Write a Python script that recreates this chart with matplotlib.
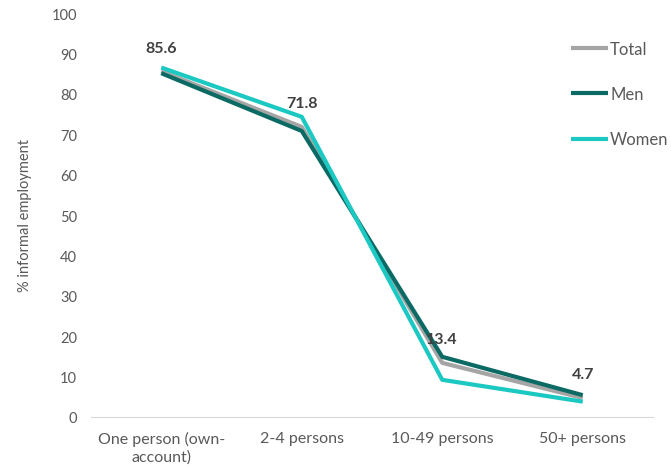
import matplotlib.pyplot as plt

plt.rcParams['font.family'] = ['Lato', 'DejaVu Sans']

categories = ['One person (own-\naccount)', '2-4 persons', '10-49 persons', '50+ persons']
total = [85.6, 71.8, 13.4, 4.7]
men = [85.1, 70.8, 14.9, 5.4]
women = [86.5, 74.3, 9.2, 3.8]

fig = plt.figure(figsize=(6.71, 4.77), dpi=100)
ax = fig.add_axes([91 / 671, 1 - 418 / 477, (653 - 91) / 671, (418 - 14) / 477])

x = list(range(len(categories)))
ax.plot(x, total, color='#A5A5A5', lw=3, label='Total', solid_capstyle='butt')
ax.plot(x, men, color='#0B6B64', lw=3, label='Men', solid_capstyle='butt')
ax.plot(x, women, color='#1CC8C2', lw=3, label='Women', solid_capstyle='butt')

for xi, v in zip(x, total):
    ax.annotate(f'{v:.1f}', (xi, v), xytext=(0, 12), textcoords='offset points',
                ha='center', va='bottom', fontsize=11.5, fontweight='bold', color='#404040')

ax.set_xlim(-0.5, len(categories) - 0.5)
ax.set_ylim(0, 100)
ax.set_yticks(range(0, 101, 10))
ax.set_xticks(x)
ax.set_xticklabels(categories, linespacing=1.3)
ax.tick_params(axis='both', length=0, colors='#595959')
ax.tick_params(axis='x', pad=10, labelsize=11.5)
ax.tick_params(axis='y', pad=10, labelsize=10.5)
for s in ['top', 'right', 'left']:
    ax.spines[s].set_visible(False)
ax.spines['bottom'].set_color('#D9D9D9')
ax.set_ylabel('% informal employment', fontsize=10.5, color='#595959', labelpad=14)

fig.legend(loc='upper left', bbox_to_anchor=(556 / 671, 1 - 27 / 477), frameon=False,
           fontsize=12, handlelength=2.2, handletextpad=0.15, labelspacing=1.75,
           labelcolor='#595959')

fig.savefig('out.png', dpi=100)
